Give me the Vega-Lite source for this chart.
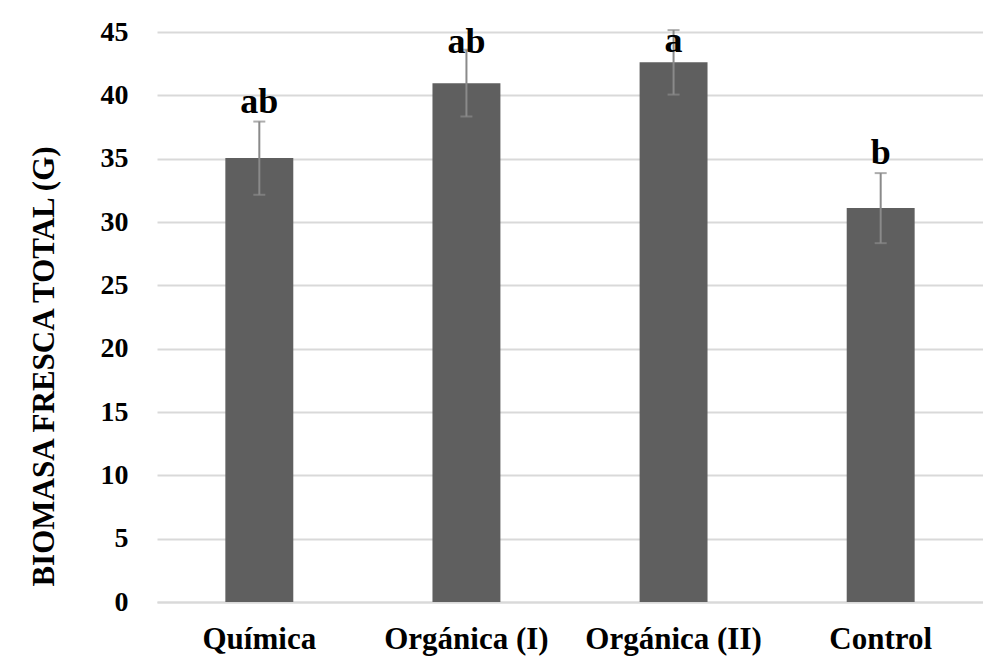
{
  "$schema": "https://vega.github.io/schema/vega-lite/v6.json",
  "autosize": "none",
  "width": 826,
  "height": 570,
  "padding": {"left": 157, "top": 32, "right": 0, "bottom": 60},
  "background": "white",
  "config": {
    "view": {"stroke": null},
    "font": "Liberation Serif",
    "axis": {"labelFont": "Liberation Serif", "titleFont": "Liberation Serif", "labelFontWeight": "bold", "titleFontWeight": "bold", "labelColor": "#000000", "titleColor": "#000000"}
  },
  "data": {
    "values": [
      {"tratamiento": "Química", "biomasa": 35.05, "lower": 32.15, "upper": 37.93, "letra": "ab", "pos_letra": 38.63},
      {"tratamiento": "Orgánica (I)", "biomasa": 40.96, "lower": 38.33, "upper": 43.6, "letra": "ab", "pos_letra": 43.37},
      {"tratamiento": "Orgánica (II)", "biomasa": 42.62, "lower": 40.06, "upper": 45.15, "letra": "a", "pos_letra": 43.45},
      {"tratamiento": "Control", "biomasa": 31.1, "lower": 28.33, "upper": 33.86, "letra": "b", "pos_letra": 34.6}
    ]
  },
  "encoding": {
    "x": {
      "field": "tratamiento",
      "type": "nominal",
      "sort": null,
      "scale": {"paddingInner": 0.672, "paddingOuter": 0.33},
      "axis": {
        "title": null,
        "labelAngle": 0,
        "labelFontSize": 31,
        "labelFont": "Liberation Serif",
        "labelFontWeight": "bold",
        "labelPadding": 22,
        "ticks": false,
        "domainColor": "#d9d9d9",
        "domainWidth": 2
      }
    }
  },
  "layer": [
    {
      "mark": {"type": "bar", "color": "#5f5f5f"},
      "encoding": {
        "y": {
          "field": "biomasa",
          "type": "quantitative",
          "title": "BIOMASA FRESCA TOTAL (G)",
          "scale": {"domain": [0, 45], "nice": false},
          "axis": {
            "title": "BIOMASA FRESCA TOTAL (G)",
            "titleFontSize": 31,
            "titleAngle": -90,
            "titleX": -113,
            "titleY": 334,
            "titleAlign": "center",
            "titleBaseline": "middle",
            "values": [0, 5, 10, 15, 20, 25, 30, 35, 40, 45],
            "labelFontSize": 28,
            "labelPadding": 29,
            "ticks": false,
            "tickSize": 0,
            "domain": false,
            "grid": true,
            "gridColor": "#d9d9d9",
            "gridWidth": 2
          }
        }
      }
    },
    {
      "mark": {"type": "errorbar", "color": "#8a8a8a", "thickness": 2, "ticks": {"size": 12, "thickness": 2, "color": "#8a8a8a"}},
      "encoding": {
        "y": {"field": "lower", "type": "quantitative", "title": "BIOMASA FRESCA TOTAL (G)"},
        "y2": {"field": "upper"}
      }
    },
    {
      "mark": {"type": "text", "font": "Liberation Serif", "fontWeight": "bold", "fontSize": 36, "baseline": "alphabetic", "align": "center", "color": "#000000"},
      "encoding": {
        "y": {"field": "pos_letra", "type": "quantitative", "title": "BIOMASA FRESCA TOTAL (G)"},
        "text": {"field": "letra"}
      }
    }
  ]
}
